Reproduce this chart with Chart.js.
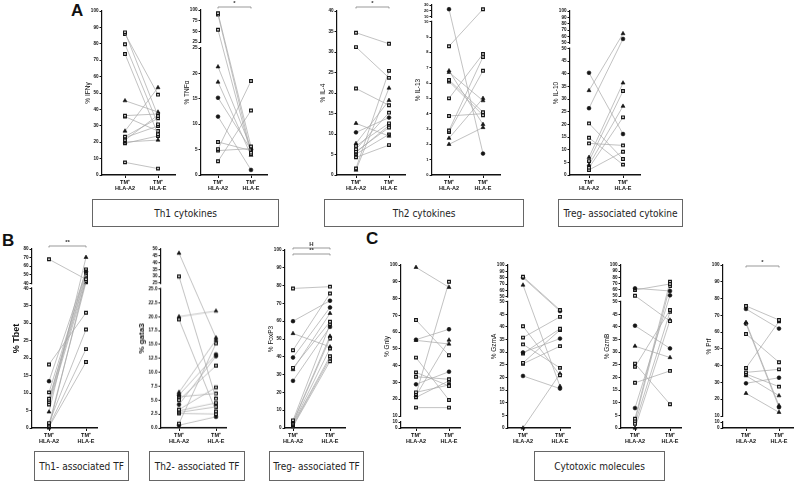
<!DOCTYPE html>
<html>
<head>
<meta charset="utf-8">
<script src="https://cdn.jsdelivr.net/npm/chart.js@4.4.0/dist/chart.umd.min.js"></script>
<style>
  body { margin: 0; width: 800px; height: 482px; position: relative; background: #fff; overflow: hidden; font-family: "Liberation Sans", Arial, sans-serif; }
  canvas { position: absolute; }
  .box { position: absolute; border: 1px solid #666; box-sizing: border-box; display: flex; align-items: center; justify-content: center;
         font-family: "Liberation Sans Narrow", "DejaVu Sans Condensed", sans-serif; font-size: 10px; color: #222; }
  .letter { position: absolute; font: bold 17px "Liberation Sans", Arial, sans-serif; color: #111; }
</style>
</head>
<body>
<div class="letter" style="left:71px;top:1px">A</div>
<div class="letter" style="left:2px;top:231px">B</div>
<div class="letter" style="left:366px;top:229px">C</div>

<div class="box" style="left:92px;top:199px;width:187px;height:28px">Th1 cytokines</div>
<div class="box" style="left:324px;top:199px;width:200px;height:28px">Th2 cytokines</div>
<div class="box" style="left:558px;top:199px;width:125px;height:28px">Treg- associated cytokine</div>
<div class="box" style="left:34px;top:451px;width:95px;height:30px">Th1- associated TF</div>
<div class="box" style="left:149px;top:451px;width:96px;height:30px">Th2- associated TF</div>
<div class="box" style="left:269px;top:451px;width:95px;height:30px">Treg- associated TF</div>
<div class="box" style="left:534px;top:451px;width:131px;height:30px">Cytotoxic molecules</div>

<script>
const groups = [["TM\u207A", "HLA-A2"], ["TM\u207A", "HLA-E"]];

// one entry per donor: value at HLA-A2, value at HLA-E, marker (s square, t triangle, c circle)
const ifnA2 = [87, 86, 79.7, 73.8, 45.3, 36.2, 35.6, 26.8, 23.4, 22.8, 21.3, 20.1, 19.3, 7.7];
const ifnE  = [36, 49, 30.9, 24.8, 38.4, 37.2, 26.8, 53.3, 34.6, 29.9, 36.5, 21.3, 23.8, 3.9];
const ifnMk = "sssstsstssstss";

const tnfA2 = [92.3, 89.2, 53.6, 21.3, 18.3, 15.2, 11.5, 6.5, 5.1, 4.8, 2.7];
const tnfE  = [5.6, 4.4, 4.1, 5.3, 3.9, 5.0, 1.0, 4.8, 18.5, 5.2, 12.7];
const tnfMk = "sssttccssss";

const il4A2 = [34.7, 31.2, 21.1, 12.6, 10.4, 7.7, 7.1, 6.3, 5.7, 5.5, 5.1, 4.3, 1.6, 1.2];
const il4E  = [32, 23.7, 17, 9.5, 14.0, 18.2, 12.6, 15.2, 11.6, 12.1, 9.9, 7.3, 25.4, 21.2];
const il4Mk = "ssstctssssssst";

const il13A2 = [23, 8.4, 6.8, 6.7, 6.2, 6.1, 5.0, 3.85, 2.9, 2.8, 2.4, 2.0];
const il13E  = [1.4, 23, 3.3, 4.85, 4.1, 3.9, 7.9, 4.0, 7.7, 6.8, 5.0, 3.1];
const il13Mk = "csttsssssstt";

const il10A2 = [40.4, 33.4, 26.4, 20.4, 14.7, 12.5, 7.0, 5.5, 4.0, 2.9, 2.0];
const il10E  = [16.2, 64.6, 56.3, 6.3, 4.1, 11.7, 36.4, 33.2, 27.2, 22.8, 9.2];
const il10Mk = "ctcssststss";

const tbetA2 = [68, 18.2, 13.4, 10.2, 8.4, 7.9, 7.4, 6.7, 4.6, 1.4, 1.0, 0.5, 0.3, 0.1];
const tbetE  = [44.7, 33, 53.6, 51.7, 49, 56.3, 47, 42.7, 70.3, 28.2, 41.2, 22.6, 18.9, 45.5];
const tbetMk = "sscssssstsssss";

const gataA2 = [47, 29.9, 20, 19.5, 6.4, 5.9, 5.6, 5.0, 4.2, 3.3, 3.1, 2.8, 2.6, 0.8, 0.5];
const gataE  = [16.2, 5.3, 21, 3.0, 15.8, 13.2, 6.2, 11.2, 12.9, 7.3, 4.5, 3.8, 2.5, 15.2, 2.0];
const gataMk = "tststcsscsssssc";

const foxA2 = [78.4, 60, 53.1, 43.7, 39.6, 33.8, 32.8, 26.5, 4.3, 3.4, 3.0, 2.4, 2.0, 1.5, 0.9];
const foxE  = [79.4, 71.5, 45.6, 75.6, 67.7, 59.7, 64.4, 56.8, 58.3, 51.6, 50.3, 44.7, 40.3, 39, 37.5];
const foxMk = "sctscstcstsssss";

const gnlyA2 = [98.6, 67.2, 55.5, 55.1, 44.8, 36, 33.4, 28.9, 24.1, 22.9, 22.1, 21.1, 15];
const gnlyE  = [86.7, 46.2, 61.7, 52.9, 19.5, 27.9, 31.9, 36.4, 28.5, 90, 55.3, 31, 15];
const gnlyMk = "tsctssscsstss";

const gzmaA2 = [81.6, 80, 68.4, 40.3, 35.8, 33.1, 29.9, 29.5, 25.8, 25.4, 20.6, 0];
const gzmaE  = [46.7, 46.3, 16.5, 20.9, 44, 23.8, 35.4, 39.3, 38.8, 32.4, 15.6, 21.5];
const gzmaMk = "sctssscsssct";

const gzmbA2 = [62.4, 59.7, 50.5, 40.5, 32.4, 25.5, 24.2, 17.9, 7.9, 3.7, 2.8, 1.7, 0];
const gzmbE  = [58.1, 69.4, 42.3, 31.5, 27.9, 9.4, 46.7, 22.6, 51.1, 73.1, 66.1, 46, 42.7];
const gzmbMk = "cssctssscssst";

const prfA2 = [75.6, 73.8, 65.8, 65, 58.9, 38.6, 36, 35, 34, 29.5, 23.5];
const prfE  = [67.2, 62.1, 16.2, 15.2, 42, 66.4, 37.8, 27.5, 22.1, 32.8, 12.2];
const prfMk = "sctcsssstct";

const range = (a, b, s) => { const r = []; for (let v = a; v <= b + 1e-9; v += s) r.push(+v.toFixed(2)); return r; };

// split = value where the axis breaks; lower/upper = tick values of each part
const panels = [
  { title: "% IFN\u03B3", a2: ifnA2, e: ifnE, mk: ifnMk, ax: 102, top: 11, bot: 175, c1: 125, c2: 158, end: 175, max: 100, lower: range(0, 100, 10) },
  { title: "% TNF\u03B1", a2: tnfA2, e: tnfE, mk: tnfMk, ax: 201, top: 10, bot: 175, c1: 218, c2: 251, end: 267, max: 100,
    split: 25, brk: [48, 42], lower: range(0, 25, 5), upper: [25, 50, 75, 100], sig: [{ dy: -3, text: "*" }] },
  { title: "% IL-4", a2: il4A2, e: il4E, mk: il4Mk, ax: 337, top: 10.7, bot: 175, c1: 356, c2: 389, end: 405, max: 40,
    lower: range(0, 40, 5), sig: [{ dy: -4, text: "*" }] },
  { title: "% IL-13", a2: il13A2, e: il13E, mk: il13Mk, ax: 432, top: 5, bot: 175, c1: 449, c2: 483, end: 500, max: 30,
    split: 10, brk: [21.7, 17], lower: range(0, 10, 1), upper: [10, 20, 30], small: true },
  { title: "% IL-10", a2: il10A2, e: il10E, mk: il10Mk, ax: 570, top: 10.7, bot: 175, c1: 589, c2: 623, end: 640, max: 100,
    split: 50, brk: [48.3, 42.7], lower: range(0, 50, 5), upper: range(50, 100, 10) },
  { title: "% Tbet", a2: tbetA2, e: tbetE, mk: tbetMk, ax: 32, top: 249, bot: 428, c1: 49, c2: 86, end: 97, max: 80,
    split: 40, brk: [288.3, 283.3], lower: range(0, 40, 5), upper: range(40, 80, 10), sig: [{ dy: -3, text: "**" }], big: 9, yw: 21 },
  { title: "% gata3", a2: gataA2, e: gataE, mk: gataMk, ax: 161, top: 249.3, bot: 428, c1: 179, c2: 216, end: 226, max: 50,
    split: 25, brk: [289, 283.3], lower: range(0, 25, 2.5), upper: range(25, 50, 5), dec: 1, big: 8, yw: 24 },
  { title: "% FoxP3", a2: foxA2, e: foxE, mk: foxMk, ax: 285, top: 250, bot: 428, c1: 293, c2: 330, end: 345, max: 100,
    lower: range(0, 100, 10), sig: [{ dy: -2, text: "H" }, { dy: 4, text: "**" }] },
  { title: "% Gnly", a2: gnlyA2, e: gnlyE, mk: gnlyMk, ax: 401, top: 265, bot: 428, c1: 416, c2: 449, end: 460, max: 100,
    split: 10, brk: [422, 416], lower: [0, 10], upper: range(10, 100, 10) },
  { title: "% GzmA", a2: gzmaA2, e: gzmaE, mk: gzmaMk, ax: 508, top: 265, bot: 428, c1: 523, c2: 560, end: 570, max: 100,
    split: 50, brk: [301.7, 296.7], lower: range(0, 50, 5), upper: range(50, 100, 10) },
  { title: "% GzmB", a2: gzmbA2, e: gzmbE, mk: gzmbMk, ax: 621, top: 265, bot: 428, c1: 635, c2: 670, end: 681, max: 100,
    split: 50, brk: [301.7, 296], lower: range(0, 50, 5), upper: range(50, 100, 10) },
  { title: "% Prf", a2: prfA2, e: prfE, mk: prfMk, ax: 723, top: 265, bot: 428, c1: 746, c2: 779, end: 793, max: 100,
    split: 10, brk: [422, 416], lower: [0, 10], upper: range(10, 100, 10), sig: [{ dy: 1, text: "*" }] }
];

// linear scale that can have a gap: two linear pieces placed at given fractions of the axis
class BrokenScale extends Chart.LinearScale {
  buildTicks() {
    this.start = this.min;
    this.end = this.max;
    return this.options.marks.map(m => ({ value: m[0], seg: m[1] }));
  }
  decimalFor(v, seg) {
    const segs = this.options.segs;
    if (seg === undefined) seg = (segs.length > 1 && v > segs[0].max) ? 1 : 0;
    const s = segs[seg];
    return s.from + (v - s.min) / (s.max - s.min) * (s.to - s.from);
  }
  getPixelForValue(v) {
    return v == null ? NaN : this.getPixelForDecimal(this.decimalFor(v));
  }
  getPixelForTick(i) {
    const t = this.ticks[i];
    return this.getPixelForDecimal(this.decimalFor(t.value, t.seg));
  }
}
BrokenScale.id = "broken";
BrokenScale.defaults = {};
Chart.register(BrokenScale);

Chart.defaults.font.family = "'Liberation Sans', Arial, sans-serif";
Chart.defaults.color = "#111";

const PADT = 16, XH = 20, PADR = 12;

panels.forEach(p => {
  const YW = p.yw || 18;
  const h = p.bot - p.top;
  let segs, marks;
  if (p.split !== undefined) {
    const fLow = (p.bot - p.brk[0]) / h, fUp = (p.bot - p.brk[1]) / h;
    segs = [{ min: 0, max: p.split, from: 0, to: fLow }, { min: p.split, max: p.max, from: fUp, to: 1 }];
    marks = p.lower.map(v => [v, 0]).concat(p.upper.map(v => [v, 1]));
  } else {
    segs = [{ min: 0, max: p.max, from: 0, to: 1 }];
    marks = p.lower.map(v => [v, 0]);
  }
  const unit = p.c2 - p.c1;
  const xmin = -(p.c1 - p.ax) / unit, xmax = 1 + (p.end - p.c2) / unit;

  const cv = document.createElement("canvas");
  const w = YW + (p.end - p.ax) + PADR, ht = PADT + h + XH;
  cv.width = w; cv.height = ht;
  cv.style.left = (p.ax - YW) + "px";
  cv.style.top = (p.top - PADT) + "px";
  cv.style.width = w + "px"; cv.style.height = ht + "px";
  document.body.appendChild(cv);

  const datasets = p.a2.map((v, i) => {
    const m = p.mk[i];
    return {
      data: [{ x: 0, y: v }, { x: 1, y: p.e[i] }],
      borderColor: "#a8a8a8",
      borderWidth: 0.7,
      pointStyle: m === "s" ? "rect" : (m === "t" ? "triangle" : "circle"),
      pointRadius: m === "t" ? 2.3 : 1.9,
      pointBackgroundColor: m === "s" ? "#fff" : "#151515",
      pointBorderColor: "#151515",
      pointBorderWidth: m === "s" ? 1.2 : 0.6,
      clip: false
    };
  });

  const extras = {
    id: "extras",
    afterDraw(chart) {
      const ctx = chart.ctx, ys = chart.scales.y, xs = chart.scales.x, area = chart.chartArea;
      ctx.save();
      if (segs.length > 1) {
        const yl = ys.getPixelForDecimal(segs[0].to), yu = ys.getPixelForDecimal(segs[1].from);
        ctx.fillStyle = "#fff";
        ctx.fillRect(area.left - 2, yu + 1, 4, yl - yu - 2);
      }
      (p.sig || []).forEach(s => {
        const x0 = xs.getPixelForValue(0), x1 = xs.getPixelForValue(1), y = area.top + s.dy;
        ctx.strokeStyle = "#999";
        ctx.lineWidth = 1;
        ctx.beginPath();
        ctx.moveTo(x0, y + 1.5); ctx.lineTo(x0, y); ctx.lineTo(x1, y); ctx.lineTo(x1, y + 1.5);
        ctx.stroke();
        ctx.fillStyle = "#333";
        ctx.font = "bold 6px 'Liberation Sans', Arial, sans-serif";
        ctx.textAlign = "center";
        ctx.textBaseline = "bottom";
        ctx.fillText(s.text, (x0 + x1) / 2, y - 0.5);
      });
      ctx.restore();
    }
  };

  new Chart(cv.getContext("2d"), {
    type: "line",
    data: { datasets },
    options: {
      responsive: false,
      animation: false,
      events: [],
      layout: { padding: { top: PADT, right: PADR, left: 0, bottom: 0 } },
      plugins: { legend: { display: false }, tooltip: { enabled: false } },
      scales: {
        x: {
          type: "linear", min: xmin, max: xmax,
          afterBuildTicks: s => { s.ticks = [{ value: 0 }, { value: 1 }]; },
          afterFit: s => { s.height = XH; },
          ticks: { callback: v => groups[v], autoSkip: false, maxRotation: 0, padding: 1,
                   font: { size: 5.5, weight: "bold" }, color: "#111" },
          grid: { drawOnChartArea: false, color: "#111", tickLength: 3 },
          border: { color: "#111", width: 1.6 }
        },
        y: {
          type: "broken", min: 0, max: p.max, segs: segs, marks: marks,
          afterFit: s => { s.width = YW; },
          ticks: { autoSkip: false, padding: 1, color: "#111",
                   font: { size: p.small ? 4 : 4.6, weight: "bold" },
                   callback: (v, i, ticks) => (p.dec && ticks[i].seg === 0) ? v.toFixed(p.dec) : String(v) },
          grid: { drawOnChartArea: false, color: "#111", tickLength: 2.5 },
          border: { color: "#111", width: 1.2 },
          title: { display: true, text: p.title, padding: 0, color: "#111",
                   font: { size: p.big || 6.5, weight: p.big ? "bold" : "normal" } }
        }
      }
    },
    plugins: [extras]
  });
});
</script>
</body>
</html>
